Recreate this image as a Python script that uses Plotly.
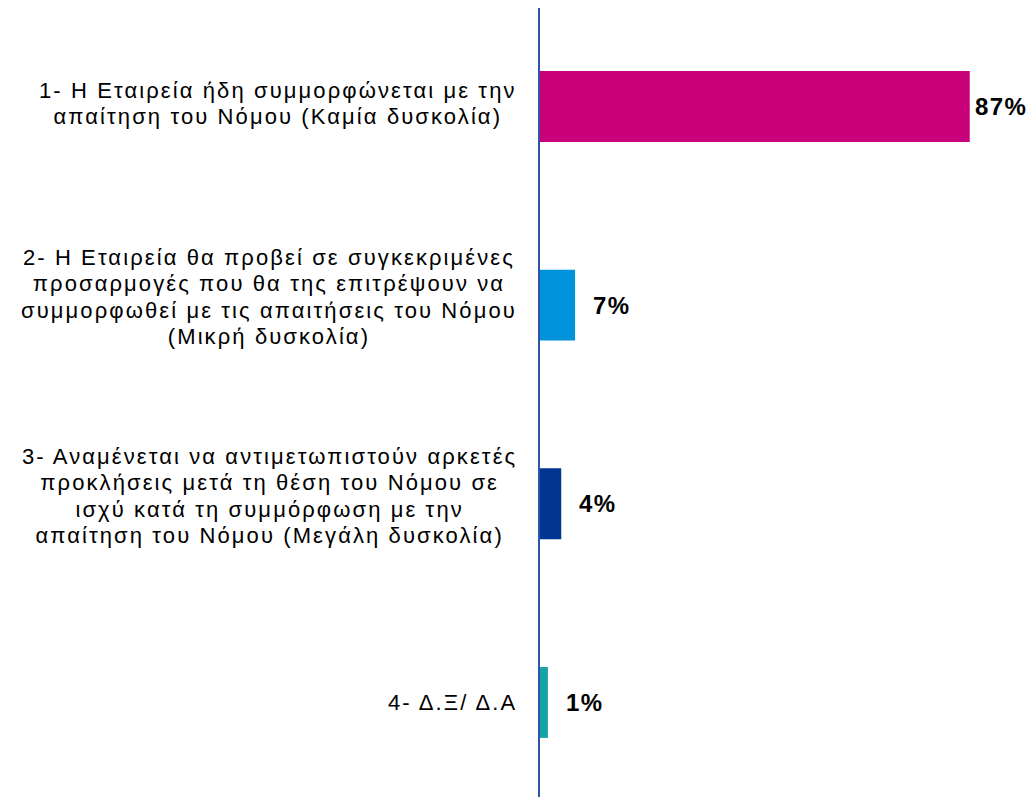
import plotly.graph_objects as go

categories = [
    "1- Η Εταιρεία ήδη συμμορφώνεται με την<br>απαίτηση του Νόμου (Καμία δυσκολία)",
    "2- Η Εταιρεία θα προβεί σε συγκεκριμένες<br>προσαρμογές που θα της επιτρέψουν να<br>συμμορφωθεί με τις απαιτήσεις του Νόμου<br>(Μικρή δυσκολία)",
    "3- Αναμένεται να αντιμετωπιστούν αρκετές<br>προκλήσεις μετά τη θέση του Νόμου σε<br>ισχύ κατά τη συμμόρφωση με την<br>απαίτηση του Νόμου (Μεγάλη δυσκολία)",
    "4- Δ.Ξ/ Δ.Α",
]
values = [87.0, 7.1, 4.3, 1.6]
value_labels = ["87%", "7%", "4%", "1%"]
colors = ["#C8007A", "#0092DA", "#003591", "#16A3A6"]

idx = list(range(len(categories)))
FONT = "Liberation Sans, Arial, sans-serif"

fig = go.Figure()
fig.add_trace(go.Bar(
    x=values, y=idx, orientation="h",
    marker=dict(color=colors, line=dict(width=0)),
    width=0.357, hoverinfo="skip",
))


def styled(text, size, spacing):
    lines = text.split("<br>")
    return "<br>".join(
        '<span style="font-size:%dpx;letter-spacing:%.1fpx">%s</span>' % (size, spacing, ln)
        for ln in lines
    )


annotations = []
for i, (cat, v, lab) in enumerate(zip(categories, values, value_labels)):
    n_lines = cat.count("<br>") + 1
    annotations.append(dict(
        x=0, xref="paper", y=i, yref="y", text=styled(cat, 22, 2.1), showarrow=False,
        xanchor="right", yanchor="middle", align="center", xshift=-21,
        yshift=(n_lines - 1) * 2.6,
        font=dict(family=FONT, size=20.2, color="#000000"),
    ))
    annotations.append(dict(
        x=v, xref="x", y=i, yref="y", text="<b>" + styled(lab, 24, 1.4) + "</b>",
        showarrow=False, xanchor="left", yanchor="middle",
        xshift=(3 if v > 80 else 16),
        font=dict(family=FONT, size=24, color="#000000"),
    ))

fig.update_layout(
    width=1029, height=797,
    margin=dict(l=540, r=0, t=8, b=0),
    paper_bgcolor="white", plot_bgcolor="white",
    showlegend=False,
    xaxis=dict(range=[0, 99], visible=False, showgrid=False, zeroline=False),
    yaxis=dict(range=[3.476, -0.496], showticklabels=False, ticks="", showgrid=False,
               zeroline=False, showline=True, linecolor="#2E55A5", linewidth=2),
    annotations=annotations,
)

fig.write_html(
    "out.html",
    config={"displayModeBar": False},
    post_script="document.body.style.margin='0';document.body.style.overflow='hidden';",
)
